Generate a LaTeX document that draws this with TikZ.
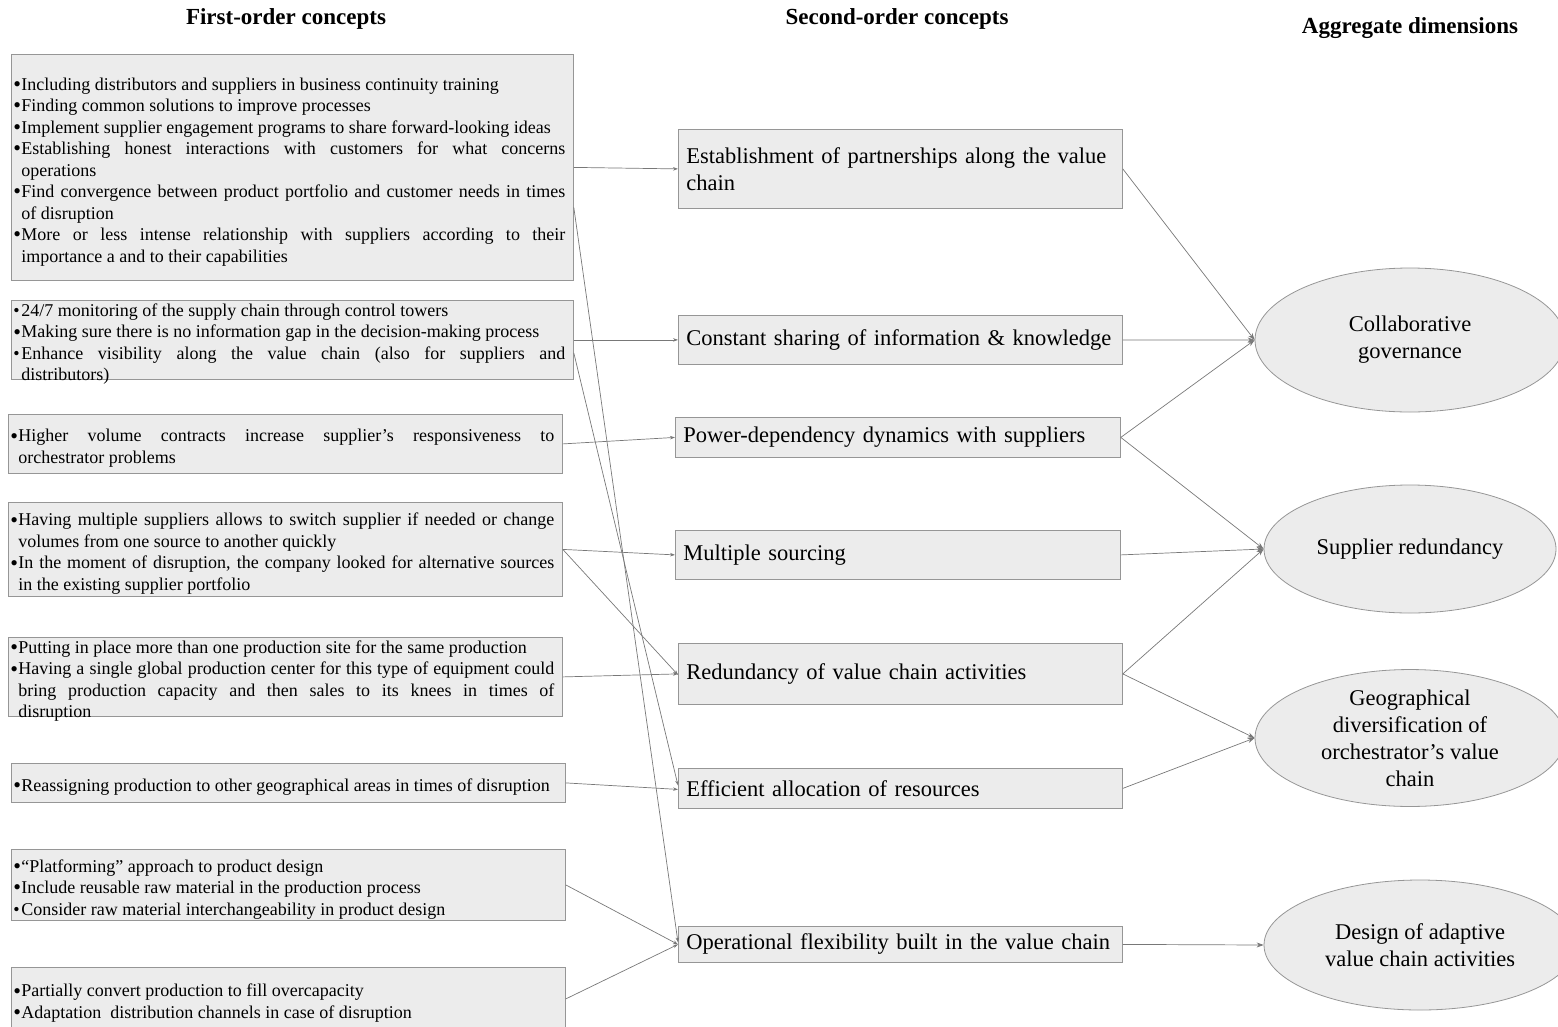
\documentclass[tikz,border=0pt]{standalone}
\usepackage{fontspec}
\setmainfont{Liberation Serif}
\usetikzlibrary{arrows.meta,shapes.geometric}
\definecolor{boxfill}{RGB}{236,236,236}
\definecolor{boxline}{RGB}{150,150,150}
\definecolor{arrowc}{RGB}{120,120,120}
\newcommand\bul{\par\noindent\hangindent=8pt\hangafter=1\makebox[8pt][l]{\raisebox{-1.2pt}{\fontsize{22}{0}\selectfont\textbullet}}}
\newcommand\sbul{\par\noindent\hangindent=8pt\hangafter=1\makebox[8pt][l]{\textbullet}}
\tikzset{
  fobox/.style 2 args={draw=boxline, fill=boxfill, line width=0.8pt, anchor=north west,
    minimum width=#1pt, minimum height=#2pt, inner sep=0pt},
  fotext/.style={text width=#1pt-10pt, inner sep=0pt, anchor=center,
    align=justify, font=\fontsize{18}{21.5}\selectfont},
  sobox/.style 2 args={draw=boxline, fill=boxfill, line width=0.8pt, anchor=north west,
    minimum width=#1pt, minimum height=#2pt, text width=#1pt-16pt, inner xsep=8pt, inner ysep=0pt,
    align=left, font=\fontsize{22.5}{27}\selectfont},
  agg/.style 2 args={ellipse, draw=boxline, fill=boxfill, line width=0.8pt,
    minimum width=#1pt, minimum height=#2pt, inner sep=0pt, align=center,
    font=\fontsize{22.5}{27}\selectfont},
  head/.style={font=\fontsize{23}{26}\selectfont\bfseries},
  la/.style={draw=arrowc, line width=0.7pt, -{Stealth[length=5pt,width=3.5pt]}},
  ra/.style={draw=arrowc, line width=0.7pt, -{Stealth[length=7pt,width=5pt]}},
}
% name, x, y, width, height, text
\newcommand\firstbox[6]{%
  \node[fobox={#4}{#5}] (#1) at (#2,#3) {};
  \node[fotext={#4}] (#1t) at ([xshift=-3pt]#1.center) {#6\par};
}
\begin{document}
\begin{tikzpicture}[x=1pt,y=-1pt]
\useasboundingbox (0,0) rectangle (1558,1026);

% headings
\node[head] (h1) at (286,19) {First-order concepts};
\node[head] (h2) at (897,19) {Second-order concepts};
\node[head] (h3) at (1410,28) {Aggregate dimensions};

% first-order concepts
\firstbox{b1}{11}{54}{562}{226}{%
\bul Including distributors and suppliers in business continuity training
\bul Finding common solutions to improve processes
\bul Implement supplier engagement programs to share forward-looking ideas
\bul Establishing honest interactions with customers for what concerns\linebreak operations
\bul Find convergence between product portfolio and customer needs in times\linebreak of disruption
\bul More or less intense relationship with suppliers according to their\linebreak importance a and to their capabilities}

\firstbox{b2}{11}{300}{562}{79}{%
\sbul 24/7 monitoring of the supply chain through control towers
\bul Making sure there is no information gap in the decision-making process
\sbul Enhance visibility along the value chain (also for suppliers and\linebreak distributors)}

\firstbox{b3}{8}{414}{554}{59}{%
\bul Higher volume contracts increase supplier’s responsiveness to\linebreak orchestrator problems}

\firstbox{b4}{8}{502}{554}{94}{%
\bul Having multiple suppliers allows to switch supplier if needed or change\linebreak volumes from one source to another quickly
\bul In the moment of disruption, the company looked for alternative sources\linebreak in the existing supplier portfolio}

\firstbox{b5}{8}{637}{554}{79}{%
\bul Putting in place more than one production site for the same production
\bul Having a single global production center for this type of equipment could\linebreak bring production capacity and then sales to its knees in times of\linebreak disruption}

\firstbox{b6}{11}{763}{554}{39}{%
\bul Reassigning production to other geographical areas in times of disruption}

\firstbox{b7}{11}{849}{554}{71}{%
\bul “Platforming” approach to product design
\bul Include reusable raw material in the production process
\sbul Consider raw material interchangeability in product design}

\firstbox{b8}{11}{967}{554}{63}{%
\bul Partially convert production to fill overcapacity
\bul Adaptation\ \ distribution channels in case of disruption}

% second-order concepts
\node[sobox={444}{79}] (s1) at (678,129) {Establishment of partnerships along the value\\chain};
\node[sobox={444}{49}] (s2) at (678,315) {Constant sharing of information \& knowledge};
\node[sobox={445}{40}] (s3) at (675,417) {Power-dependency dynamics with suppliers};
\node[sobox={445}{49}] (s4) at (675,530) {Multiple sourcing};
\node[sobox={444}{61}] (s5) at (678,643) {Redundancy of value chain activities};
\node[sobox={444}{40}] (s6) at (678,768) {Efficient allocation of resources};
\node[sobox={444}{36}] (s7) at (678,926) {Operational flexibility built in the value chain};

% aggregate dimensions
\node[agg={310}{144}] (e1) at (1410,340) {Collaborative\\governance};
\node[agg={292}{128}] (e2) at (1410,549) {Supplier redundancy};
\node[agg={310}{130}] (e3) at (1410,738) {Geographical\\diversification of\\orchestrator’s value\\chain};
\node[agg={312}{130}] (e4) at (1420,945) {Design of adaptive\\value chain activities};

% first -> second
\draw[la] (b1.east) -- (s1.west);
\draw[la] ([yshift=-40pt]b1.east) -- ([yshift=2pt]s7.west);
\draw[la] (b2.east) -- (s2.west);
\draw[la] ([yshift=-13pt]b2.east) -- ([yshift=3pt]s6.west);
\draw[la] (b3.east) -- (s3.west);
\draw[la] (b4.east) -- (s4.west);
\draw[la] (b4.east) -- ([yshift=-1pt]s5.west);
\draw[la] (b5.east) -- (s5.west);
\draw[la] (b6.east) -- ([yshift=-1pt]s6.west);
\draw[la] (b7.east) -- (s7.west);
\draw[la] (b8.east) -- (s7.west);

% second -> aggregate
\draw[ra] (s1.east) -- (e1.west);
\draw[ra] (s2.east) -- (e1.west);
\draw[ra] (s3.east) -- (e1.west);
\draw[ra] (s3.east) -- (e2.west);
\draw[ra] (s4.east) -- (e2.west);
\draw[ra] (s5.east) -- (e2.west);
\draw[ra] (s5.east) -- (e3.west);
\draw[ra] (s6.east) -- (e3.west);
\draw[ra] (s7.east) -- (e4.west);
\end{tikzpicture}
\end{document}
